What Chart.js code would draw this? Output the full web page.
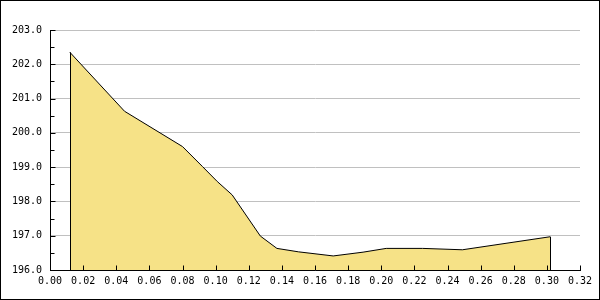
<!DOCTYPE html>
<html>
<head>
<meta charset="utf-8">
<script src="https://cdn.jsdelivr.net/npm/chart.js@4/dist/chart.umd.min.js"></script>
<style>
html,body{margin:0;padding:0;background:#fff;}
#wrap{width:600px;height:300px;position:relative;}
</style>
</head>
<body>
<div id="wrap"><canvas id="c" width="600" height="300"></canvas></div>
<script>
const xValues = [0.012, 0.045, 0.080, 0.092, 0.101, 0.110, 0.127, 0.137, 0.150, 0.171, 0.189, 0.203, 0.225, 0.249, 0.302];
const yValues = [202.35, 200.63, 199.60, 199.02, 198.58, 198.19, 196.99, 196.63, 196.53, 196.41, 196.52, 196.63, 196.63, 196.59, 196.97];
const yMin = 196, yMax = 203, yStep = 1;
const xMin = 0, xMax = 0.32, xStep = 0.02;

const points = xValues.map((x, i) => ({x: x, y: yValues[i]}));
const FONT = {family: "'DejaVu Sans Mono', monospace", size: 10};

const decor = {
  id: 'decor',
  afterDatasetsDraw(chart) {
    const ctx = chart.ctx;
    const xs = chart.scales.x, ys = chart.scales.y;
    const meta = chart.getDatasetMeta(0);
    ctx.save();
    ctx.strokeStyle = '#000';
    ctx.lineWidth = 1;
    // vertical edges of the area
    const first = meta.data[0], last = meta.data[meta.data.length - 1];
    const bottom = ys.getPixelForValue(yMin);
    ctx.beginPath();
    ctx.moveTo(Math.round(first.x) + 0.5, first.y);
    ctx.lineTo(Math.round(first.x) + 0.5, bottom);
    ctx.moveTo(Math.round(last.x) + 0.5, last.y);
    ctx.lineTo(Math.round(last.x) + 0.5, bottom);
    ctx.stroke();
    // inward ticks on y
    const left = Math.round(xs.left) + 0.5;
    ctx.beginPath();
    for (let v = yMin; v <= yMax + 1e-9; v += yStep / 2) {
      const py = Math.round(ys.getPixelForValue(v)) + 0.5;
      const major = Math.abs(v - Math.round(v)) < 1e-9;
      ctx.moveTo(left, py);
      ctx.lineTo(left + (major ? 5 : 4), py);
    }
    // inward ticks on x
    const by = Math.round(ys.bottom) + 0.5;
    for (let i = 0; i <= Math.round((xMax - xMin) / xStep); i++) {
      const px = Math.round(xs.getPixelForValue(xMin + i * xStep)) + 0.5;
      ctx.moveTo(px, by);
      ctx.lineTo(px, by - 5);
    }
    ctx.stroke();
    ctx.restore();
  },
  afterDraw(chart) {
    const ctx = chart.ctx;
    ctx.save();
    ctx.strokeStyle = '#000';
    ctx.lineWidth = 1;
    ctx.strokeRect(0.5, 0.5, chart.width - 1, chart.height - 1);
    ctx.restore();
  }
};

new Chart(document.getElementById('c'), {
  type: 'line',
  data: {
    datasets: [{
      data: points,
      borderColor: '#000',
      borderWidth: 1,
      backgroundColor: '#f6e287',
      fill: 'start',
      tension: 0,
      pointRadius: 0
    }]
  },
  options: {
    responsive: false,
    animation: false,
    events: [],
    layout: {padding: {top: 30, right: 20, left: 0, bottom: 0}},
    plugins: {legend: {display: false}, tooltip: {enabled: false}, title: {display: false}},
    scales: {
      x: {
        type: 'linear',
        min: xMin, max: xMax,
        afterFit(s) { s.height = 30; },
        ticks: {
          stepSize: xStep,
          color: '#000',
          font: FONT,
          padding: 5,
          maxRotation: 0,
          autoSkip: false,
          callback: v => Number(v).toFixed(2)
        },
        grid: {display: false, drawTicks: false},
        border: {display: true, color: '#000', width: 1}
      },
      y: {
        type: 'linear',
        min: yMin, max: yMax,
        afterFit(s) { s.width = 50; },
        ticks: {
          stepSize: yStep,
          color: '#000',
          font: FONT,
          padding: 8,
          callback: v => Number(v).toFixed(1)
        },
        grid: {display: true, color: '#c0c0c0', lineWidth: 1, drawTicks: false},
        border: {display: true, color: '#000', width: 1}
      }
    }
  },
  plugins: [decor]
});
</script>
</body>
</html>
